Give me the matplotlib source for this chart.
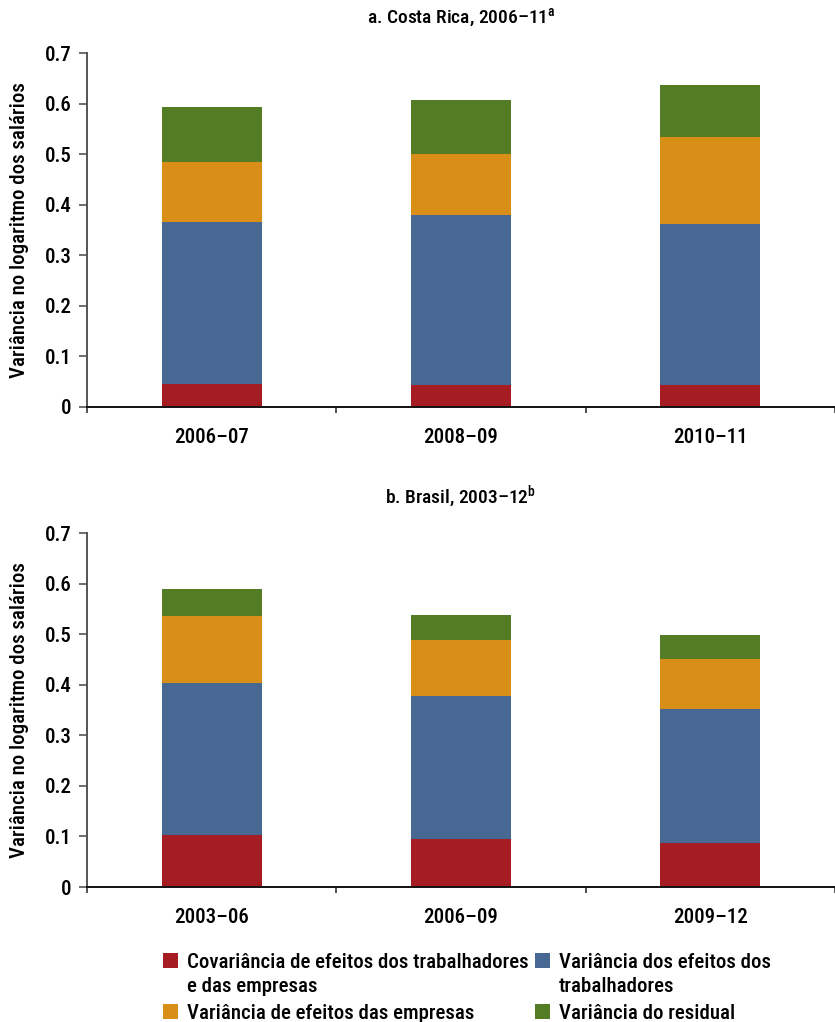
import matplotlib
matplotlib.use("Agg")
import matplotlib.pyplot as plt
from matplotlib.patches import Rectangle
from matplotlib import font_manager

# Pick a condensed sans-serif face
installed = {f.name for f in font_manager.fontManager.ttflist}
base = next(n for n in ["Roboto Condensed", "Archivo Narrow", "Fira Sans Condensed", "DejaVu Sans"]
            if n in installed)
plt.rcParams["font.family"] = [base, "DejaVu Sans"]
plt.rcParams["font.weight"] = "medium"
plt.rcParams["axes.titleweight"] = "medium"
plt.rcParams["axes.labelweight"] = "medium"
plt.rcParams["mathtext.fontset"] = "custom"
plt.rcParams["mathtext.rm"] = base

# Data
series_labels = [
    "Covariância de efeitos dos trabalhadores\ne das empresas",
    "Variância dos efeitos dos\ntrabalhadores",
    "Variância de efeitos das empresas",
    "Variância do residual",
]
colors = ["#A51C22", "#466893", "#D98F17", "#547C25"]

cr_periods = ["2006–07", "2008–09", "2010–11"]
cr_cov = [0.046, 0.044, 0.043]
cr_worker = [0.320, 0.336, 0.319]
cr_firm = [0.118, 0.120, 0.172]
cr_resid = [0.109, 0.107, 0.103]

br_periods = ["2003–06", "2006–09", "2009–12"]
br_cov = [0.102, 0.095, 0.087]
br_worker = [0.301, 0.283, 0.265]
br_firm = [0.133, 0.110, 0.099]
br_resid = [0.053, 0.050, 0.047]

yticks = [0, 0.1, 0.2, 0.3, 0.4, 0.5, 0.6, 0.7]
ytick_labels = ["0", "0.1", "0.2", "0.3", "0.4", "0.5", "0.6", "0.7"]
ylabel = "Variância no logaritmo dos salários"

W, H = 835, 1022
fig = plt.figure(figsize=(W / 100, H / 100), dpi=100)

FS = 15
TFS = 14


def panel(rect, periods, comps, title):
    ax = fig.add_axes(rect)
    x = list(range(len(periods)))
    bottom = [0.0] * len(periods)
    for vals, c in zip(comps, colors):
        ax.bar(x, vals, width=0.4, bottom=bottom, color=c, linewidth=0, zorder=2)
        bottom = [b + v for b, v in zip(bottom, vals)]
    ax.set_xlim(-0.5, len(periods) - 0.5)
    ax.set_ylim(0, 0.7)
    ax.set_yticks(yticks)
    ax.set_yticklabels(ytick_labels, fontsize=FS)
    # ticks between categories
    ax.set_xticks([i - 0.5 for i in range(len(periods) + 1)])
    ax.set_xticklabels([])
    ax.set_xticks(x, minor=True)
    ax.set_xticklabels(periods, minor=True, fontsize=FS)
    ax.tick_params(axis="x", which="minor", length=0, pad=15)
    ax.tick_params(axis="x", which="major", length=4.5, width=1.2, color="#333333", direction="out")
    ax.tick_params(axis="y", length=6, width=1.2, color="#555555", direction="out", pad=5)
    for s in ["top", "right"]:
        ax.spines[s].set_visible(False)
    ax.spines["left"].set_color("#555555")
    ax.spines["left"].set_linewidth(1.4)
    ax.spines["bottom"].set_color("#111111")
    ax.spines["bottom"].set_linewidth(1.4)
    ax.spines["bottom"].set_zorder(3)
    ax.set_ylabel(ylabel, fontsize=FS)
    ax.yaxis.set_label_coords(-0.078, 0.5)
    ax.set_title(title, fontsize=TFS, pad=21)
    return ax


ax1 = panel([87 / W, 1 - 407 / H, (W - 87) / W, 354 / H],
            cr_periods, [cr_cov, cr_worker, cr_firm, cr_resid],
            r"a. Costa Rica, 2006–11$^{\mathrm{a}}$")
ax2 = panel([87 / W, 1 - 887 / H, (W - 87) / W, 354 / H],
            br_periods, [br_cov, br_worker, br_firm, br_resid],
            r"b. Brasil, 2003–12$^{\mathrm{b}}$")

# Legend laid out in two columns: (square left x, first-line baseline y) in pixels
box = 15
line_gap = 24
entries = [(163, 968), (535, 968), (163, 1019), (535, 1019)]
for (px, py), lab, c in zip(entries, series_labels, colors):
    fig.patches.append(Rectangle((px / W, (H - py) / H), box / W, box / H,
                                 transform=fig.transFigure, color=c, linewidth=0))
    for i, line in enumerate(lab.split("\n")):
        fig.text((px + 24) / W, (H - py - i * line_gap) / H, line, fontsize=FS,
                 va="baseline", ha="left")

fig.savefig("out.png", dpi=100)
